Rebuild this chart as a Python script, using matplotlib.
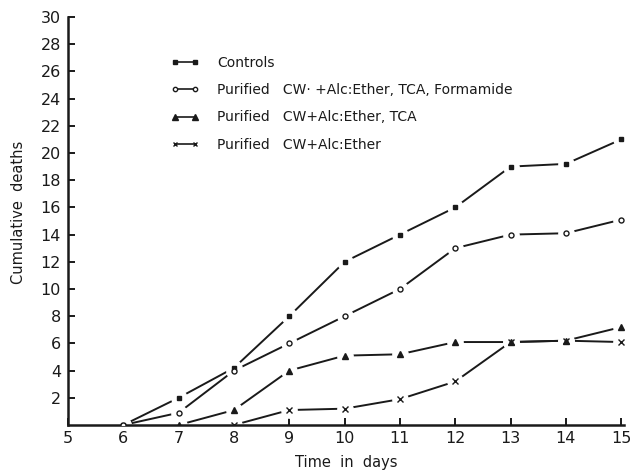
import matplotlib
matplotlib.use('Agg')
import matplotlib.pyplot as plt

# days on the x axis
days_controls = [6, 7, 8, 9, 10, 11, 12, 13, 14, 15]
controls = [0, 2, 4.2, 8, 12, 14, 16, 19, 19.2, 21]

days_formamide = [6, 7, 8, 9, 10, 11, 12, 13, 14, 15]
formamide = [0, 0.9, 4, 6, 8, 10, 13, 14, 14.1, 15.1]

days_tca = [7, 8, 9, 10, 11, 12, 13, 14, 15]
tca = [0, 1.1, 4, 5.1, 5.2, 6.1, 6.1, 6.2, 7.2]

days_ether = [8, 9, 10, 11, 12, 13, 14, 15]
ether = [0, 1.1, 1.2, 1.9, 3.2, 6.1, 6.2, 6.1]

labels = ['Controls',
          'Purified   CW\u00b7 +Alc:Ether, TCA, Formamide',
          'Purified   CW+Alc:Ether, TCA',
          'Purified   CW+Alc:Ether']

y_ticks = list(range(2, 31, 2))
x_ticks = list(range(5, 16))

ink = '#1a1a1a'
plt.rcParams['font.family'] = 'DejaVu Sans'

fig = plt.figure(figsize=(6.41, 4.72), dpi=100)
ax = fig.add_axes([68 / 641, 1 - 425 / 472, 556 / 641, 408 / 472])

series = [
    (days_controls, controls, 's', 3.2, ink),
    (days_formamide, formamide, 'o', 3.6, 'white'),
    (days_tca, tca, '^', 4.2, ink),
    (days_ether, ether, 'x', 4.0, ink),
]

handles = []
for (xs, ys, m, ms, fc), lab in zip(series, labels):
    # white halo under each point so the line breaks near the marker
    ax.plot(xs, ys, color=ink, lw=1.4, zorder=2)
    ax.plot(xs, ys, ls='none', marker='o', ms=11, mfc='white', mec='white', zorder=2.2)
    ax.plot(xs, ys, ls='none', marker=m, ms=ms, mfc=fc, mec=ink, mew=1.0, zorder=4)
    h, = ax.plot([], [], color=ink, lw=1.2, marker=m, ms=ms - 0.5, mfc=fc, mec=ink,
                 mew=1.0, label=lab)
    handles.append(h)

ax.set_xlim(5, 15.05)
ax.set_ylim(0, 30)
ax.set_xticks(x_ticks)
ax.set_yticks(y_ticks)

for s in ['top', 'right']:
    ax.spines[s].set_visible(False)
for s in ['left', 'bottom']:
    ax.spines[s].set_linewidth(1.8)
    ax.spines[s].set_color(ink)

ax.tick_params(direction='in', length=5, width=1.4, colors=ink, labelsize=11.5)
ax.tick_params(axis='y', pad=5)
ax.tick_params(axis='x', pad=4)

ax.set_xlabel('Time  in  days', fontsize=10.5, color=ink, labelpad=7)
ax.set_ylabel('Cumulative  deaths', fontsize=10.5, color=ink)
ax.yaxis.set_label_coords(-0.076, 0.52)

leg = ax.legend(handles, labels,
                loc='upper left', bbox_to_anchor=(171 / 641, 1 - 56 / 472),
                bbox_transform=fig.transFigure, frameon=False, numpoints=2,
                handlelength=2.0, handletextpad=1.3, labelspacing=0.95,
                borderpad=0, borderaxespad=0, fontsize=10)
for t in leg.get_texts():
    t.set_color(ink)

fig.savefig('out.png', dpi=100, facecolor='white')
